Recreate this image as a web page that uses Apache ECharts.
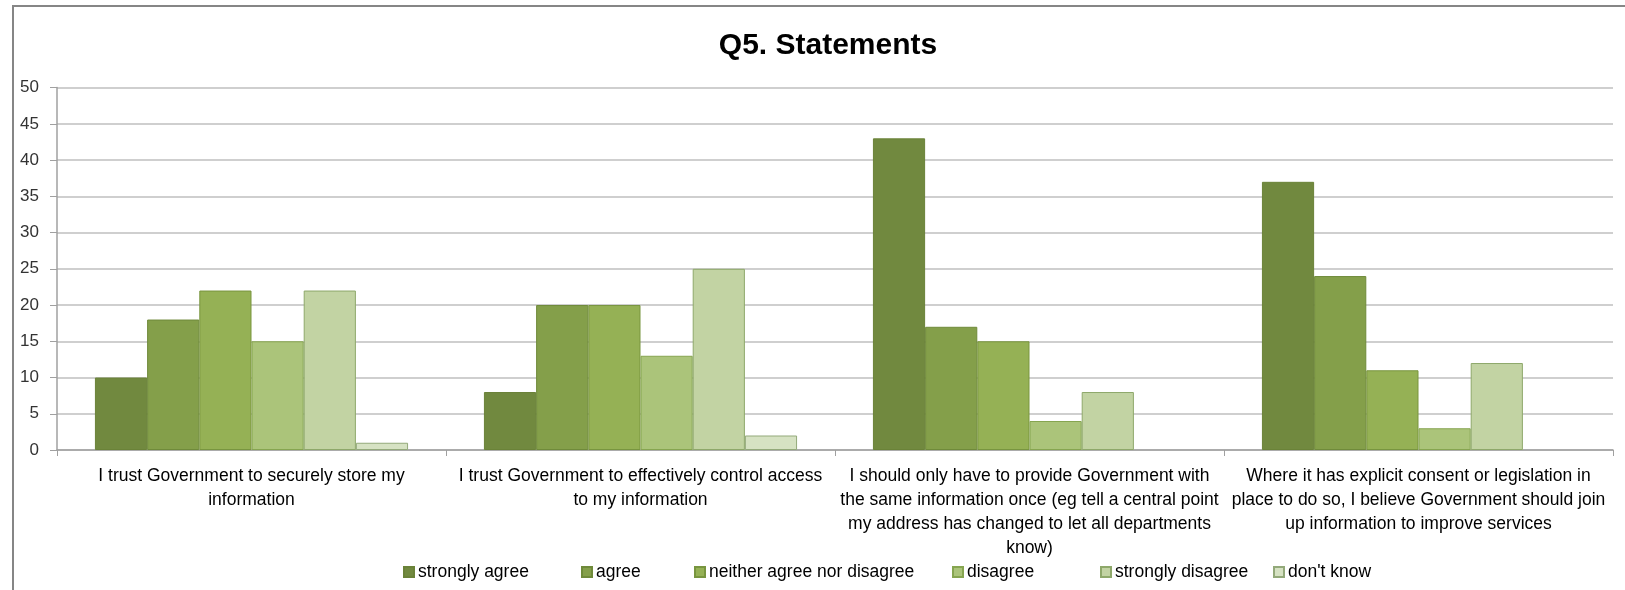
<!DOCTYPE html>
<html>
<head>
<meta charset="utf-8">
<script src="https://cdn.jsdelivr.net/npm/echarts@6/dist/echarts.min.js"></script>
<style>
html,body{margin:0;padding:0;background:#fff;}
#chart{width:1625px;height:590px;}
</style>
</head>
<body>
<div id="chart"></div>
<script>
const categories = [
  "I trust Government to securely store my\ninformation",
  "I trust Government to effectively control access\nto my information",
  "I should only have to provide Government with\nthe same information once (eg tell a central point\nmy address has changed to let all departments\nknow)",
  "Where it has explicit consent or legislation in\nplace to do so, I believe Government should join\nup information to improve services"
];
const seriesNames = ["strongly agree", "agree", "neither agree nor disagree", "disagree", "strongly disagree", "don't know"];
const stronglyAgree = [10, 8, 43, 37];
const agree = [18, 20, 17, 24];
const neither = [22, 20, 15, 11];
const disagree = [15, 13, 4, 3];
const stronglyDisagree = [22, 25, 8, 12];
const dontKnow = [1, 2, 0, 0];
const yTicks = [0, 5, 10, 15, 20, 25, 30, 35, 40, 45, 50];

const values = [stronglyAgree, agree, neither, disagree, stronglyDisagree, dontKnow];
const fills = ["#71893f", "#849f4a", "#95b155", "#abc47a", "#c2d3a3", "#d6e2c3"];
const borders = ["#6a8238", "#6f8a3a", "#78953f", "#86a550", "#8ea86a", "#93a97a"];
const legendLeft = [398, 576, 689, 947, 1095, 1268];

const chart = echarts.init(document.getElementById('chart'), null, {renderer: 'canvas'});
const font = "'Liberation Sans', Arial, sans-serif";

const option = {
  backgroundColor: '#ffffff',
  animation: false,
  title: {
    text: 'Q5. Statements',
    left: 823, top: 26,
    textAlign: 'center',
    textStyle: {fontFamily: font, fontWeight: 'bold', fontSize: 30, color: '#000'}
  },
  legend: seriesNames.map((n, i) => ({
    data: [n],
    left: legendLeft[i], top: 558,
    itemWidth: 10, itemHeight: 10, itemGap: 5,
    icon: 'rect',
    textStyle: {fontFamily: font, fontSize: 17.5, color: '#000', padding: [0, 0, 0, -1]}
  })),
  grid: {left: 57, right: 12, top: 87.6, bottom: 140, containLabel: false},
  xAxis: {
    type: 'category',
    data: categories,
    axisLine: {lineStyle: {color: '#a0a0a0', width: 1.5}},
    axisTick: {show: true, length: 6, lineStyle: {color: '#a0a0a0'}},
    axisLabel: {interval: 0, fontFamily: font, fontSize: 17.5, color: '#000', lineHeight: 24, margin: 14}
  },
  yAxis: {
    type: 'value',
    min: yTicks[0], max: yTicks[yTicks.length - 1], interval: 5,
    axisLine: {show: true, lineStyle: {color: '#a0a0a0', width: 1.5}},
    axisTick: {show: true, length: 7, inside: false, lineStyle: {color: '#a0a0a0'}},
    splitLine: {show: true, lineStyle: {color: '#bfbfbf', width: 1.5}},
    axisLabel: {fontFamily: font, fontSize: 17, color: '#333', margin: 18}
  },
  series: seriesNames.map((n, i) => ({
    name: n,
    type: 'bar',
    data: values[i].map(v => v === 0 ? {value: v, itemStyle: {borderWidth: 0}} : v),
    barGap: '0%',
    barCategoryGap: '19.5%',
    itemStyle: {color: fills[i], borderColor: borders[i], borderWidth: 1}
  })),
  graphic: [{
    type: 'rect',
    shape: {x: 13, y: 6, width: 1640, height: 620},
    style: {fill: 'none', stroke: '#868686', lineWidth: 2},
    silent: true, z: 100
  }]
};
chart.setOption(option);
</script>
</body>
</html>
